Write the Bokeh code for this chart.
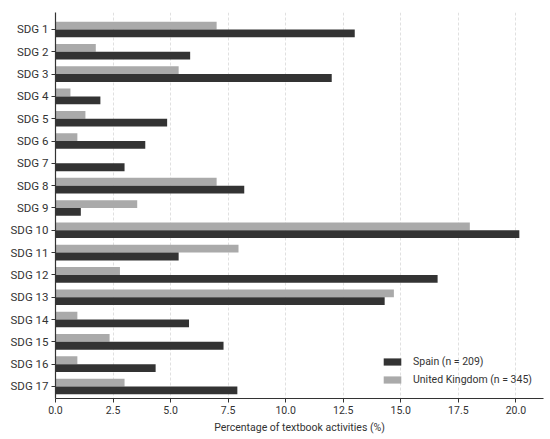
import numpy as np
from bokeh.plotting import figure
from bokeh.models import Range1d, FixedTicker, ColumnDataSource, Legend, LegendItem
from bokeh.embed import file_html
from bokeh.resources import INLINE

categories = [f"SDG {i}" for i in range(1, 18)]
spain = [13.0, 5.85, 12.0, 1.95, 4.85, 3.9, 3.0, 8.2, 1.1, 20.15, 5.35, 16.6, 14.3, 5.8, 7.3, 4.35, 7.9]
uk = [7.0, 1.75, 5.35, 0.65, 1.3, 0.95, 0.0, 7.0, 3.55, 18.0, 7.95, 2.8, 14.7, 0.95, 2.35, 0.95, 3.0]
x_ticks = [0.0, 2.5, 5.0, 7.5, 10.0, 12.5, 15.0, 17.5, 20.0]
spain_label = "Spain (n = 209)"
uk_label = "United Kingdom (n = 345)"

FONT = "Roboto"
DARK = "#333333"
LIGHT = "#aaaaaa"

pos = np.arange(1, len(categories) + 1)
bar_h = 0.35
src = ColumnDataSource(dict(
    y_uk=pos - bar_h / 2, y_es=pos + bar_h / 2, uk=uk, es=spain, cat=categories))

p = figure(width=550, height=439, output_backend="svg", toolbar_location=None,
           x_range=Range1d(0, 21.2), y_range=Range1d(17.54, 0.24),
           min_border_left=55, min_border_right=7, min_border_top=12, min_border_bottom=41)
p.outline_line_color = None
p.background_fill_color = "white"
p.border_fill_color = "white"

r_uk = p.hbar(y="y_uk", right="uk", left=0, height=bar_h, source=src,
              fill_color=LIGHT, line_color=None)
r_es = p.hbar(y="y_es", right="es", left=0, height=bar_h, source=src,
              fill_color=DARK, line_color=None)

# axes
p.xaxis.ticker = FixedTicker(ticks=x_ticks)
p.xaxis.major_label_overrides = {t: f"{t:.1f}" for t in x_ticks}
p.yaxis.ticker = FixedTicker(ticks=list(pos))
p.yaxis.major_label_overrides = {int(i): c for i, c in zip(pos, categories)}
for ax in (p.xaxis, p.yaxis):
    ax.axis_line_color = DARK
    ax.axis_line_width = 1.2
    ax.major_tick_line_color = DARK
    ax.major_tick_out = 4
    ax.major_tick_in = 0
    ax.minor_tick_line_color = None
    ax.major_label_text_font = FONT
    ax.major_label_text_color = DARK
    ax.major_label_standoff = 3
p.yaxis.major_label_text_font_size = "11.5px"
p.xaxis.major_label_text_font_size = "10.5px"
p.xaxis.axis_label = "Percentage of textbook activities (%)"
p.xaxis.axis_label_text_font = FONT
p.xaxis.axis_label_text_font_style = "normal"
p.xaxis.axis_label_text_font_size = "10.5px"
p.xaxis.axis_label_text_color = DARK
p.xaxis.axis_label_standoff = 4

p.ygrid.grid_line_color = None
p.xgrid.ticker = FixedTicker(ticks=x_ticks)
p.xgrid.grid_line_color = "#d8d8d8"
p.xgrid.grid_line_dash = "3 2"
p.xgrid.grid_line_width = 0.8

legend = Legend(items=[LegendItem(label=spain_label, renderers=[r_es]),
                       LegendItem(label=uk_label, renderers=[r_uk])],
                location=(326, 11), padding=0, margin=0, spacing=3,
                glyph_width=22, glyph_height=9, label_height=15,
                label_standoff=10, border_line_color=None,
                background_fill_alpha=0,
                label_text_font=FONT, label_text_font_size="10.5px",
                label_text_color=DARK)
p.add_layout(legend, "center")

open("out.html", "w").write(file_html(p, INLINE))
